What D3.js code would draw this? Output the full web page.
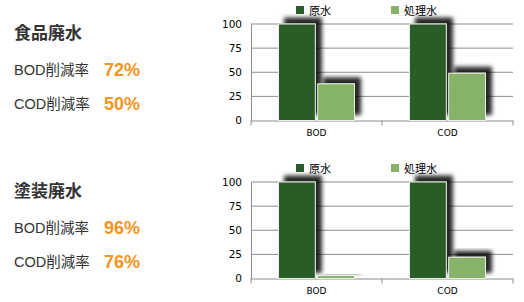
<!DOCTYPE html>
<html>
<head>
<meta charset="utf-8">
<script src="https://cdn.jsdelivr.net/npm/d3@7"></script>
<style>
  body { margin: 0; background: #fff; }
  svg { display: block; font-family: "Liberation Sans", "Noto Sans CJK JP", sans-serif; }
</style>
</head>
<body>
<svg width="524" height="302"></svg>
<script>
// data
var categories = ["BOD", "COD"];
var seriesNames = ["原水", "処理水"];
var titles = ["食品廃水", "塗装廃水"];
var rawFood = [100, 100];
var treatedFood = [38, 49];
var rawPaint = [100, 100];
var treatedPaint = [3, 22];
var reductionFood = ["72%", "50%"];
var reductionPaint = ["96%", "76%"];
var yTicks = [0, 25, 50, 75, 100];

var colors = ["#2b5b28", "#86b26a"];
var orange = "#f7941d";

var svg = d3.select("svg");

var defs = svg.append("defs");
var f = defs.append("filter").attr("id", "shadow")
  .attr("x", "-40%").attr("y", "-40%").attr("width", "180%").attr("height", "180%");
f.append("feDropShadow")
  .attr("dx", 6).attr("dy", -6).attr("stdDeviation", 2.3)
  .attr("flood-color", "#000").attr("flood-opacity", 0.85);

function drawPanel(top, title, raw, treated, reductions) {
  // left text
  svg.append("text").attr("x", 14).attr("y", top + 39)
    .attr("font-size", 17).attr("font-weight", "bold").attr("fill", "#333")
    .attr("font-family", "'Noto Sans CJK JP', sans-serif")
    .text(title);
  categories.forEach(function (c, i) {
    var y = top + 75 + i * 34;
    svg.append("text").attr("x", 14).attr("y", y)
      .attr("font-size", 14.5).attr("fill", "#333")
      .text(c + "削減率");
    svg.append("text").attr("x", 104).attr("y", y + 1)
      .attr("font-size", 18).attr("font-weight", "bold").attr("fill", orange)
      .text(reductions[i]);
  });

  var x0 = d3.scaleBand().domain(categories).range([251, 513]).paddingInner(0.42).paddingOuter(0.21);
  var x1 = d3.scaleBand().domain(seriesNames).range([0, x0.bandwidth()]).paddingInner(0.06);
  var y = d3.scaleLinear().domain([0, 100]).range([top + 120.5, top + 24]);

  var g = svg.append("g");
  // grid
  g.selectAll(".grid").data(yTicks.slice(1)).enter().append("line")
    .attr("x1", 251).attr("x2", 513)
    .attr("y1", function (d) { return y(d); }).attr("y2", function (d) { return y(d); })
    .attr("stroke", "#8c8c8c").attr("stroke-width", 1);

  var yAxis = g.append("g").attr("transform", "translate(251,0)")
    .call(d3.axisLeft(y).tickValues(yTicks).tickSize(0).tickPadding(9));
  yAxis.select(".domain").attr("stroke", "#8c8c8c");
  yAxis.selectAll("text").attr("font-size", 10.5).attr("fill", "#000")
    .attr("font-family", "'DejaVu Sans', sans-serif");

  var xAxisScale = d3.scalePoint().domain(["a", "b", "c"]).range([251, 513]);
  g.append("line").attr("x1", 251).attr("x2", 513)
    .attr("y1", y(0) + 0.5).attr("y2", y(0) + 0.5).attr("stroke", "#8c8c8c");
  g.selectAll(".xt").data(xAxisScale.domain()).enter().append("line")
    .attr("x1", function (d) { return xAxisScale(d); }).attr("x2", function (d) { return xAxisScale(d); })
    .attr("y1", y(0)).attr("y2", y(0) + 5).attr("stroke", "#8c8c8c");
  g.selectAll(".xl").data(categories).enter().append("text")
    .attr("x", function (d) { return x0(d) + x0.bandwidth() / 2; })
    .attr("y", y(0) + 15).attr("text-anchor", "middle")
    .attr("font-size", 9).attr("fill", "#000")
    .attr("font-family", "'DejaVu Sans', sans-serif")
    .text(function (d) { return d; });

  var rows = categories.map(function (c, i) { return [raw[i], treated[i]]; });
  var groups = g.selectAll(".grp").data(rows).enter().append("g")
    .attr("transform", function (d, i) { return "translate(" + x0(categories[i]) + ",0)"; });
  groups.selectAll("rect").data(function (d) { return d; }).enter().append("rect")
    .attr("x", function (d, j) { return x1(seriesNames[j]); })
    .attr("y", function (d) { return y(d); })
    .attr("width", x1.bandwidth())
    .attr("height", function (d) { return y(0) - y(d); })
    .attr("fill", function (d, j) { return colors[j]; })
    .attr("stroke", "#e8efe4").attr("stroke-width", 1)
    .attr("filter", "url(#shadow)");

  // legend
  var lx = [296, 391];
  seriesNames.forEach(function (s, j) {
    svg.append("rect").attr("x", lx[j]).attr("y", top + 6).attr("width", 8).attr("height", 8)
      .attr("fill", colors[j]);
    svg.append("text").attr("x", lx[j] + 13).attr("y", top + 14.5)
      .attr("font-size", 11).attr("fill", "#000")
      .attr("font-family", "'Noto Sans CJK JP', sans-serif")
      .text(s);
  });
}

drawPanel(0, titles[0], rawFood, treatedFood, reductionFood);
drawPanel(158, titles[1], rawPaint, treatedPaint, reductionPaint);
</script>
</body>
</html>
